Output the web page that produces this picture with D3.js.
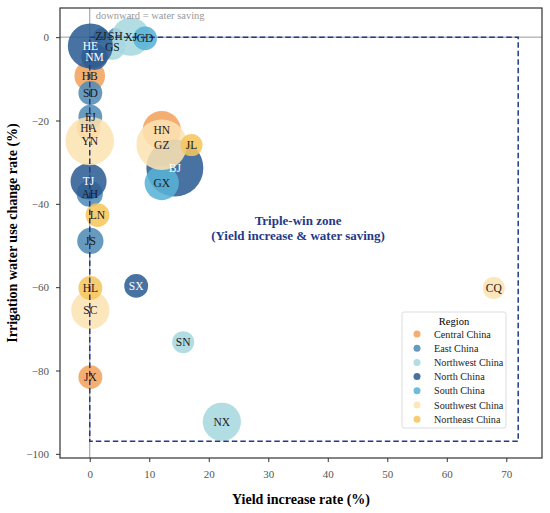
<!DOCTYPE html>
<html lang="en">
<head>
    <meta charset="UTF-8">
    <title>Yield increase vs irrigation water use change</title>
    <style>
        body, html {
            margin: 0;
            padding: 0;
            background-color: #fff;
        }
        svg text {
            font-family: "Liberation Serif", "Times New Roman", serif;
        }
    </style>
</head>
<body>
    <svg id="svg" width="550" height="513"></svg>
    <script src="https://d3js.org/d3.v7.min.js"></script>
    <script>
        // province codes
        const provinces = ["HB", "HA", "HN", "JX",
            "SD", "FJ", "AH", "JS", "ZJ", "SH",
            "XJ", "GS", "SN", "NX",
            "HE", "NM", "TJ", "BJ", "SX",
            "GD", "GX",
            "YN", "GZ", "SC", "CQ",
            "JL", "LN", "HL"]
        const regionOf = ["Central China", "Central China", "Central China", "Central China",
            "East China", "East China", "East China", "East China", "East China", "East China",
            "Northwest China", "Northwest China", "Northwest China", "Northwest China",
            "North China", "North China", "North China", "North China", "North China",
            "South China", "South China",
            "Southwest China", "Southwest China", "Southwest China", "Southwest China",
            "Northeast China", "Northeast China", "Northeast China"]
        // yield increase rate (%)
        const yieldRate = [0.0, -0.2, 12.1, 0.1,
            0.1, 0.1, 0.0, 0.1, 1.9, 4.3,
            6.9, 3.8, 15.7, 22.2,
            0.1, 0.8, -0.2, 14.3, 7.8,
            9.3, 12.1,
            0.0, 12.1, 0.1, 67.9,
            17.1, 1.3, 0.1]
        // irrigation water use change rate (%)
        const waterRate = [-9.3, -21.8, -22.3, -81.6,
            -13.4, -19.1, -37.6, -48.9, 0.3, 0.3,
            0.1, -2.3, -73.2, -92.3,
            -2.1, -4.7, -34.6, -31.4, -59.7,
            -0.3, -35.0,
            -24.9, -25.8, -65.5, -60.2,
            -25.9, -42.7, -60.2]
        // relative bubble size
        const bubbleSize = [23, 14, 36, 14,
            14, 14, 17, 17, 6, 6,
            36, 17, 12, 36,
            50, 17, 32, 80, 14,
            14, 29,
            58, 63, 36, 12,
            12, 14, 14]

        const regions = ["Central China", "East China", "Northwest China", "North China",
            "South China", "Southwest China", "Northeast China"]
        const regionColors = ["#f2a25c", "#4f8cb6", "#a6d8df", "#2d5d93",
            "#59b2d6", "#fbe2b2", "#f6c55c"]

        const xTicks = [0, 10, 20, 30, 40, 50, 60, 70]
        const yTicks = [0, -20, -40, -60, -80, -100]
        // triple-win box corners (data units)
        const zoneX = [0, 72]
        const zoneY = [0, -97]

        const data = provinces.map((p, i) => ({
            code: p,
            region: regionOf[i],
            x: yieldRate[i],
            y: waterRate[i],
            size: bubbleSize[i]
        }))

        const margin = { top: 8, right: 8, bottom: 55, left: 60 }
        const W = 550, H = 513

        const xscale = d3.scaleLinear().domain([-5, 76]).range([margin.left, W - margin.right])
        const yscale = d3.scaleLinear().domain([-101, 7]).range([H - margin.bottom, margin.top])
        const rscale = d3.scaleSqrt().domain([0, d3.max(bubbleSize)]).range([0, 28.5])
        const color = d3.scaleOrdinal().domain(regions).range(regionColors)

        const svg = d3.select('#svg')

        svg.append('defs').append('clipPath').attr('id', 'plotclip')
            .append('rect')
            .attr('x', margin.left).attr('y', margin.top)
            .attr('width', W - margin.left - margin.right)
            .attr('height', H - margin.top - margin.bottom)

        const plot = svg.append('g').attr('clip-path', 'url(#plotclip)')

        // reference lines at zero
        plot.append('line')
            .attr('x1', xscale(0)).attr('x2', xscale(0))
            .attr('y1', margin.top).attr('y2', H - margin.bottom)
            .attr('stroke', '#999').attr('stroke-width', 1)
        plot.append('line')
            .attr('x1', margin.left).attr('x2', W - margin.right)
            .attr('y1', yscale(0)).attr('y2', yscale(0))
            .attr('stroke', '#999').attr('stroke-width', 1)

        // bubbles, drawn region by region
        plot.append('g')
            .selectAll('circle')
            .data(data)
            .enter()
            .append('circle')
            .attr('cx', d => xscale(d.x))
            .attr('cy', d => yscale(d.y))
            .attr('r', d => rscale(d.size))
            .attr('fill', d => color(d.region))
            .attr('fill-opacity', 0.87)

        // triple-win zone box
        plot.append('rect')
            .attr('x', xscale(zoneX[0]))
            .attr('y', yscale(zoneY[0]))
            .attr('width', xscale(zoneX[1]) - xscale(zoneX[0]))
            .attr('height', yscale(zoneY[1]) - yscale(zoneY[0]))
            .attr('fill', 'none')
            .attr('stroke', '#1f3a87')
            .attr('stroke-width', 1.5)
            .attr('stroke-dasharray', '5.5,3')

        // province labels
        plot.append('g')
            .selectAll('text')
            .data(data)
            .enter()
            .append('text')
            .attr('x', d => xscale(d.x))
            .attr('y', d => yscale(d.y))
            .attr('dy', '0.35em')
            .attr('text-anchor', 'middle')
            .attr('font-size', '11.5px')
            .attr('fill', d => d.region === 'North China' ? '#fff' : '#1a1a1a')
            .text(d => d.code)

        // annotations
        svg.append('text')
            .attr('x', xscale(0) + 6)
            .attr('y', margin.top + 11)
            .attr('font-size', '10.5px')
            .attr('fill', '#999')
            .text('downward = water saving')

        const zone = svg.append('text')
            .attr('x', xscale(35))
            .attr('y', yscale(-45))
            .attr('text-anchor', 'middle')
            .attr('font-size', '13px')
            .attr('font-weight', 'bold')
            .attr('fill', '#1f3a87')
        zone.append('tspan').attr('x', xscale(35)).text('Triple-win zone')
        zone.append('tspan').attr('x', xscale(35)).attr('dy', 15).text('(Yield increase & water saving)')

        // axes
        const bottomAxis = d3.axisBottom(xscale).tickValues(xTicks).tickSize(4).tickPadding(8)
        svg.append('g')
            .attr('transform', `translate(0, ${H - margin.bottom})`)
            .call(bottomAxis)
            .call(g => g.select('.domain').remove())
            .call(g => g.selectAll('line').attr('stroke', '#333'))
            .selectAll('text')
            .attr('font-size', '11px')
            .attr('fill', '#555')
            .attr('font-family', '"Liberation Serif", serif')

        const leftAxis = d3.axisLeft(yscale).tickValues(yTicks).tickSize(4).tickPadding(7)
            .tickFormat(d => d3.format('d')(d).replace('-', '\u2212'))
        svg.append('g')
            .attr('transform', `translate(${margin.left}, 0)`)
            .call(leftAxis)
            .call(g => g.select('.domain').remove())
            .call(g => g.selectAll('line').attr('stroke', '#333'))
            .selectAll('text')
            .attr('font-size', '11px')
            .attr('fill', '#555')
            .attr('font-family', '"Liberation Serif", serif')

        // frame
        svg.append('rect')
            .attr('x', margin.left).attr('y', margin.top)
            .attr('width', W - margin.left - margin.right)
            .attr('height', H - margin.top - margin.bottom)
            .attr('fill', 'none')
            .attr('stroke', '#333')
            .attr('stroke-width', 1.2)

        // axis titles
        svg.append('text')
            .attr('x', (margin.left + W - margin.right) / 2)
            .attr('y', H - 9)
            .attr('text-anchor', 'middle')
            .attr('font-size', '14px')
            .attr('font-weight', 'bold')
            .text('Yield increase rate (%)')

        svg.append('text')
            .attr('transform', `translate(17, ${(margin.top + H - margin.bottom) / 2}) rotate(-90)`)
            .attr('text-anchor', 'middle')
            .attr('font-size', '14px')
            .attr('font-weight', 'bold')
            .text('Irrigation water use change rate (%)')

        // legend
        const legend = svg.append('g').attr('transform', 'translate(402, 312)')
        legend.append('rect')
            .attr('width', 104).attr('height', 116)
            .attr('rx', 2)
            .attr('fill', '#fff').attr('fill-opacity', 0.8)
            .attr('stroke', '#ddd')
        legend.append('text')
            .attr('x', 52).attr('y', 13)
            .attr('text-anchor', 'middle')
            .attr('font-size', '10.5px')
            .text('Region')
        const items = legend.selectAll('.item')
            .data(regions)
            .enter()
            .append('g')
            .attr('class', 'item')
            .attr('transform', (d, i) => `translate(0, ${22 + i * 14.2})`)
        items.append('circle')
            .attr('cx', 15).attr('r', 3.5)
            .attr('fill', d => color(d))
            .attr('fill-opacity', 0.87)
        items.append('text')
            .attr('x', 32)
            .attr('dy', '0.35em')
            .attr('font-size', '10.2px')
            .attr('fill', '#222')
            .text(d => d)
    </script>
</body>
</html>
